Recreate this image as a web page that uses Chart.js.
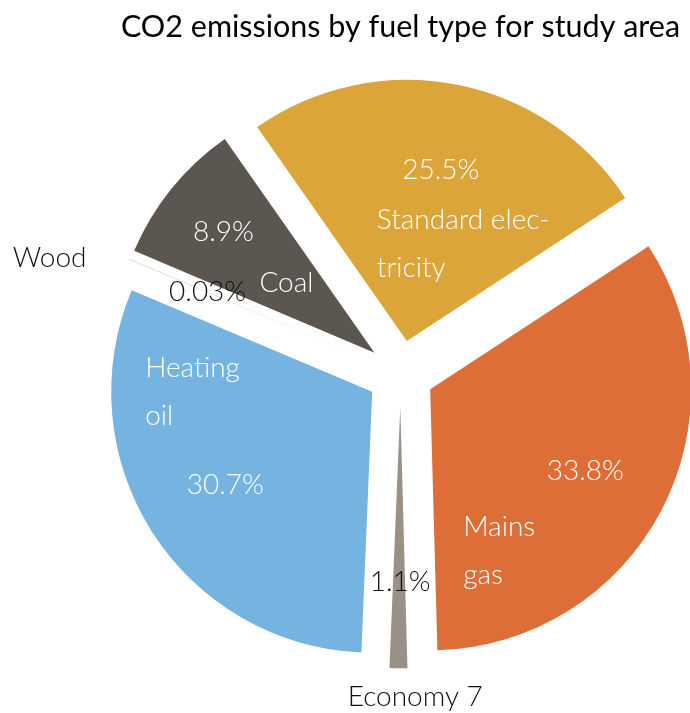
<!DOCTYPE html>
<html>
<head>
<meta charset="utf-8">
<title>CO2 emissions by fuel type for study area</title>
<script src="https://cdn.jsdelivr.net/npm/chart.js@4.4.1/dist/chart.umd.min.js"></script>
<style>
  html, body { margin: 0; padding: 0; background: #fff; }
  #wrap { width: 690px; height: 713px; }
</style>
</head>
<body>
<div id="wrap"><canvas id="co2Pie"></canvas></div>
<script>
const categories = ['Standard electricity', 'Mains gas', 'Economy 7', 'Heating oil', 'Wood', 'Coal'];
const shares = [25.5, 33.8, 1.1, 30.7, 0.03, 8.9];
const nameLines = [['Standard elec-', 'tricity'], ['Mains', 'gas'], ['Economy 7'], ['Heating', 'oil'], ['Wood'], ['Coal']];
const sliceColours = ['#DCA53A', '#DE6E38', '#9B9086', '#75B4E0', '#9E9A50', '#5B5750'];

// label spots in px from each slice tip: [dx, dy, align, colour]
const labelSpots = [
  { pct: [34, -171, 'center', '#fff'], name: [-30, -121, 'left', '#fff'] },
  { pct: [155, 82, 'center', '#fff'], name: [33, 138, 'left', '#fff'] },
  { pct: [0, 175, 'center', '#111'], name: [15, 290, 'center', '#111'] },
  { pct: [-147, 93, 'center', '#fff'], name: [-227, -24, 'left', '#fff'] },
  { pct: [-162, -69, 'center', '#111'], name: [-320, -103, 'center', '#111'] },
  { pct: [-151, -121, 'center', '#fff'], name: [-88, -70, 'center', '#fff'] }
];

const FONT = 'Lato';
const EXPLODE = 33.5;
const LINE_GAP = 48;

// pull every slice out along its own middle angle
const explode = {
  id: 'explode',
  beforeDatasetsDraw(chart) {
    const area = chart.chartArea;
    const cx = (area.left + area.right) / 2;
    const cy = (area.top + area.bottom) / 2;
    chart.getDatasetMeta(0).data.forEach(arc => {
      const mid = (arc.startAngle + arc.endAngle) / 2;
      arc.x = cx + Math.cos(mid) * EXPLODE;
      arc.y = cy + Math.sin(mid) * EXPLODE;
    });
  }
};

const sliceLabels = {
  id: 'sliceLabels',
  afterDatasetsDraw(chart) {
    const ctx = chart.ctx;
    ctx.save();
    ctx.font = `300 28px ${FONT}`;
    ctx.textBaseline = 'middle';
    chart.getDatasetMeta(0).data.forEach((arc, i) => {
      const spot = labelSpots[i];
      const pct = spot.pct;
      ctx.fillStyle = pct[3];
      ctx.textAlign = pct[2];
      ctx.fillText(shares[i] + '%', arc.x + pct[0], arc.y + pct[1]);
      const nm = spot.name;
      ctx.fillStyle = nm[3];
      ctx.textAlign = nm[2];
      nameLines[i].forEach((line, k) => {
        ctx.fillText(line, arc.x + nm[0], arc.y + nm[1] + k * LINE_GAP);
      });
    });
    ctx.restore();
  }
};

new Chart(document.getElementById('co2Pie'), {
  type: 'pie',
  data: {
    labels: categories,
    datasets: [{
      data: shares,
      backgroundColor: sliceColours,
      borderWidth: 0
    }]
  },
  options: {
    responsive: true,
    maintainAspectRatio: false,
    animation: false,
    events: [],
    rotation: -35,
    radius: 261,
    layout: { padding: { left: 111, right: 0, top: 0, bottom: 21 } },
    plugins: {
      legend: { display: false },
      tooltip: { enabled: false },
      title: {
        display: true,
        text: 'CO2 emissions by fuel type for study area',
        color: '#000',
        font: { family: FONT, size: 30.5, weight: 'normal', lineHeight: 1.2 },
        padding: { top: 9, bottom: 10 }
      }
    }
  },
  plugins: [explode, sliceLabels]
});
</script>
</body>
</html>
